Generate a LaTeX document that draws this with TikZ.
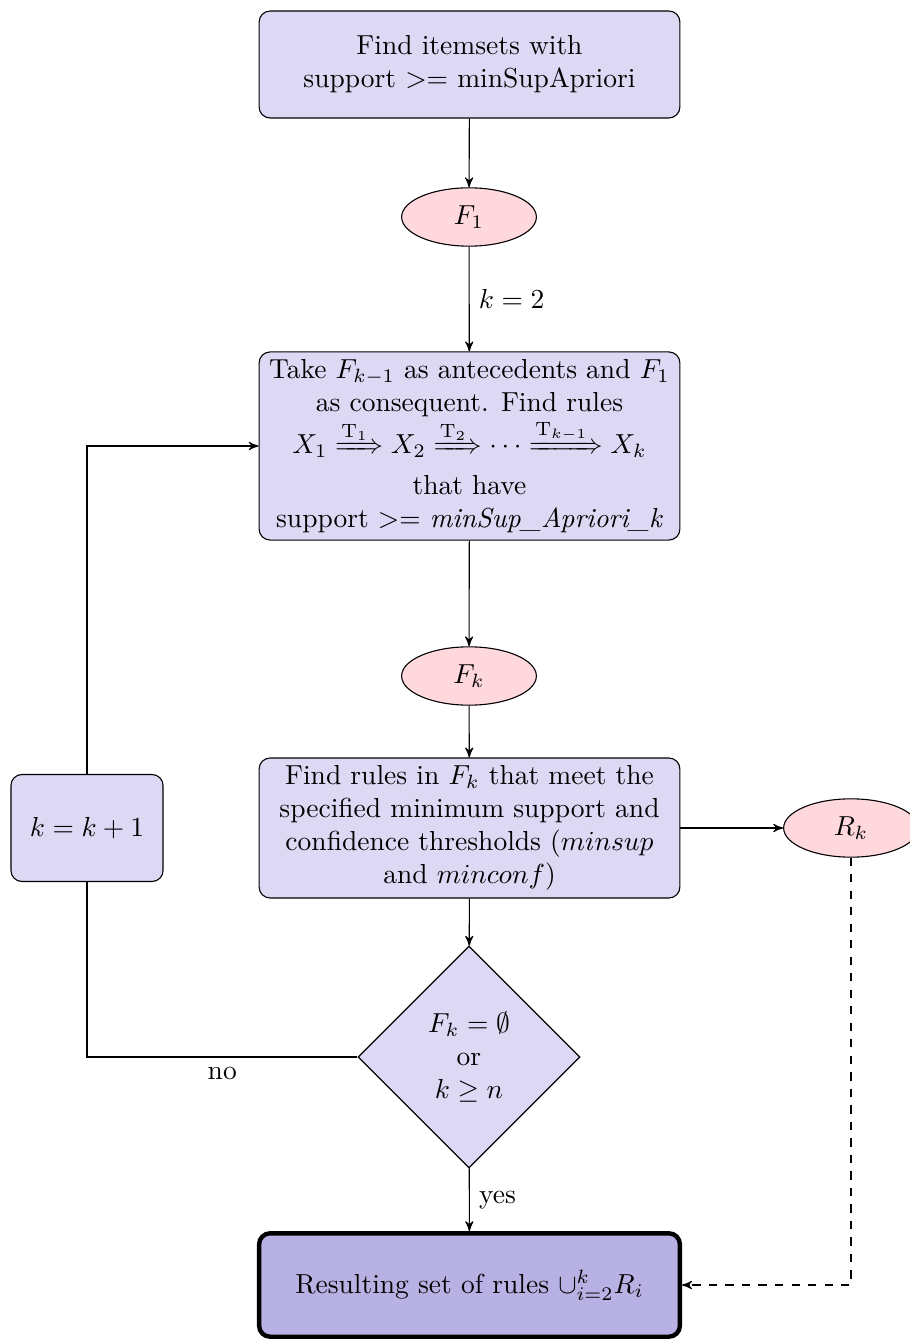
\documentclass[tikz,border=0pt]{standalone}
\usepackage{amsmath,amssymb,mathtools}
\usepackage{tikz}
\usetikzlibrary{shapes.geometric,arrows}
\definecolor{stepfill}{RGB}{221,216,244}
\definecolor{setfill}{RGB}{255,216,222}
\definecolor{outfill}{RGB}{184,178,228}
\tikzset{
  stepbox/.style={rectangle, rounded corners=4pt, draw, fill=stepfill, align=center,
    minimum width=153pt, inner sep=2pt},
  itemset/.style={ellipse, draw, fill=setfill, minimum width=49pt, minimum height=20.4pt},
  test/.style={diamond, draw, fill=stepfill, align=center, minimum width=80.7pt,
    minimum height=80.7pt, inner sep=0pt},
  flow/.style={->, >=stealth'},
}
\begin{document}
\begin{tikzpicture}[x=0.3636pt, y=-0.3636pt]
\useasboundingbox (0,0) rectangle (909,1339);
\node[stepbox, minimum height=38.9pt] (apriori) at (469.5,64.5)
  {Find itemsets with\\ support $>=$ minSupApriori};
\node[itemset] (f1) at (469,217) {$F_1$};
\node[stepbox, minimum height=68.4pt] (rules) at (469.5,446)
  {Take $F_{k-1}$ as antecedents and $F_1$\\ as consequent. Find rules\\
   $X_1 \xRightarrow{\mathrm{T}_1} X_2 \xRightarrow{\mathrm{T}_2} \cdots
    \xRightarrow{\mathrm{T}_{k-1}} X_k$\\ that have\\
   support $>=$ \textit{minSup\_Apriori\_k}};
\node[itemset] (fk) at (469,676) {$F_k$};
\node[stepbox, minimum height=50.9pt] (filter) at (469.5,828)
  {Find rules in $F_k$ that meet the\\ specified minimum support and\\
   confidence thresholds ($minsup$\\ and $minconf$)};
\node[itemset] (rk) at (851,828) {$R_k$};
\node[stepbox, minimum width=55.3pt, minimum height=38.9pt] (incr) at (87,828) {$k = k + 1$};
\node[test] (stop) at (469,1057) {$F_k = \emptyset$\\ or\\ $k \geq n$};
\node[stepbox, fill=outfill, line width=1.6pt, minimum height=37.6pt] (result) at (469.5,1285)
  {Resulting set of rules $\cup_{i=2}^{k} R_i$};

\draw[flow] (apriori) -- (f1);
\draw[flow] (f1) -- node[right] {$k=2$} (rules);
\draw[flow] (rules) -- (fk);
\draw[flow] (fk) -- (filter);
\draw[flow] (filter) -- (rk);
\draw[flow] (filter) -- (stop);
\draw (stop.west) -| node[pos=0.25, below] {no} (incr.south);
\draw[flow] (incr.north) |- (rules.west);
\draw[flow] (stop) -- node[right] {yes} (result);
\draw[flow, dashed] (rk.south) |- (result.east);
\end{tikzpicture}
\end{document}
